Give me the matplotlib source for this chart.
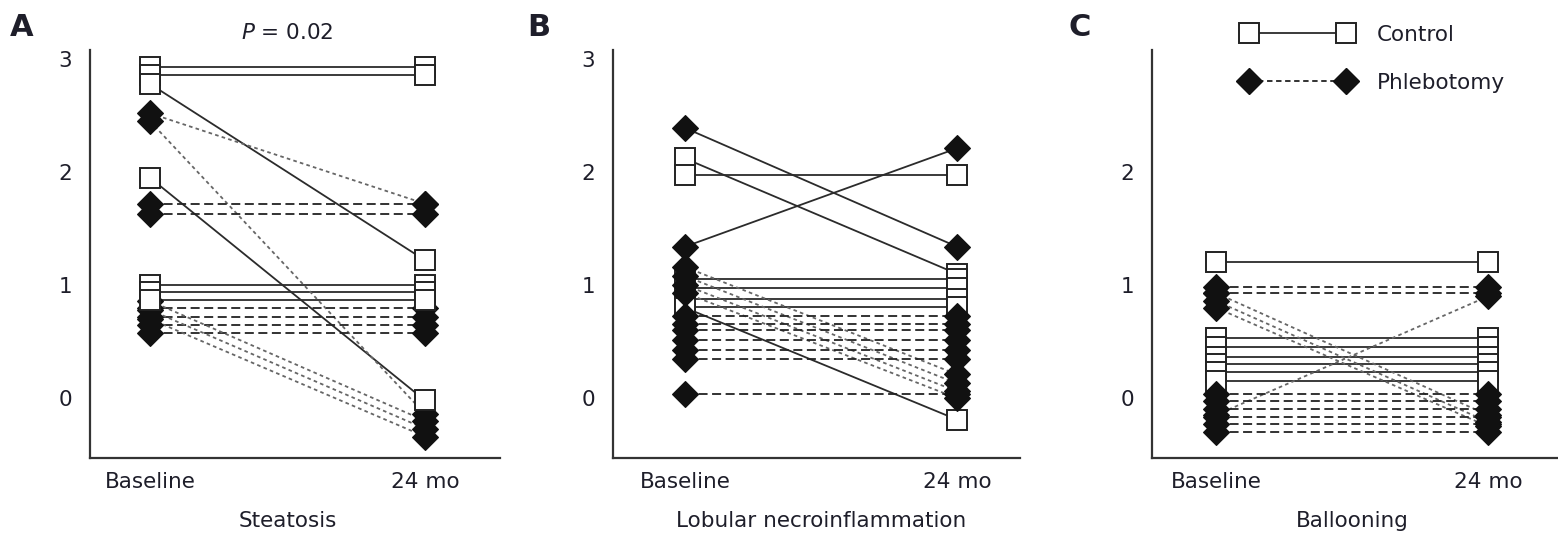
import numpy as np
import matplotlib.pyplot as plt

plt.rcParams['font.family'] = ['DejaVu Sans']

# ==========================================================
# DATA (scores, slightly offset so the patients do not overlap)
# ==========================================================

time_labels = ["Baseline", "24 mo"]
panel_letters = ["A", "B", "C"]
panel_titles = ["Steatosis", "Lobular necroinflammation", "Ballooning"]

# A: steatosis
steat_ctrl_base = [2.93, 2.86, 2.78, 1.95, 1.00, 0.94, 0.87]
steat_ctrl_24 = [2.93, 2.86, 1.22, -0.02, 1.00, 0.94, 0.87]
steat_phleb_base = [2.52, 2.45, 1.72, 1.63, 0.80, 0.72, 0.65, 0.58, 0.86, 0.78, 0.70]
steat_phleb_24 = [1.72, -0.14, 1.72, 1.63, 0.80, 0.72, 0.65, 0.58, -0.20, -0.27, -0.34]

# B: lobular necroinflammation
lob_ctrl_base = [2.12, 1.97, 1.05, 0.97, 0.88, 0.81, 0.80]
lob_ctrl_24 = [1.10, 1.97, 1.05, 0.97, 0.88, 0.81, -0.19]
lob_phleb_base = [2.39, 1.34, 1.16, 1.08, 1.00, 0.93, 0.73, 0.66, 0.60, 0.51, 0.43, 0.35, 0.04]
lob_phleb_24 = [1.34, 2.21, 0.21, 0.13, 0.06, 0.00, 0.73, 0.66, 0.60, 0.51, 0.43, 0.35, 0.04]

# C: ballooning
ball_ctrl_base = [1.20, 0.53, 0.45, 0.36, 0.30, 0.23, 0.15]
ball_ctrl_24 = [1.20, 0.53, 0.45, 0.36, 0.30, 0.23, 0.15]
ball_phleb_base = [0.98, 0.93, 0.93, 0.86, 0.80, -0.15, 0.04, -0.03, -0.10, -0.17, -0.23, -0.30]
ball_phleb_24 = [0.98, 0.93, -0.15, -0.21, -0.25, 0.90, 0.04, -0.03, -0.10, -0.17, -0.23, -0.30]

p_value_text = "$P$ = 0.02"

# ==========================================================
# STYLE
# ==========================================================

TEXT = "#1e1e2a"
AXIS = "#333333"
W, H = 1558, 533
FS = 15.5
MS = 13.7

fig = plt.figure(figsize=(W / 100, H / 100), dpi=100)


def add_axes_px(left, right, top, bottom):
    return fig.add_axes([left / W, 1 - bottom / H,
                         (right - left) / W, (bottom - top) / H])


panels = [
    dict(box=(90, 500), xlim=(-0.218, 1.273), yticks=[0, 1, 2, 3],
         ctrl=(steat_ctrl_base, steat_ctrl_24),
         phleb=(steat_phleb_base, steat_phleb_24),
         solid_phleb=[], ctrl_on_top=True, letter_x=10),
    dict(box=(613, 1020), xlim=(-0.265, 1.232), yticks=[0, 1, 2, 3],
         ctrl=(lob_ctrl_base, lob_ctrl_24),
         phleb=(lob_phleb_base, lob_phleb_24),
         solid_phleb=[0, 1], ctrl_on_top=False, letter_x=527),
    dict(box=(1152, 1557), xlim=(-0.235, 1.254), yticks=[0, 1, 2],
         ctrl=(ball_ctrl_base, ball_ctrl_24),
         phleb=(ball_phleb_base, ball_phleb_24),
         solid_phleb=[], ctrl_on_top=False, letter_x=1069),
]

axes = []

for i, p in enumerate(panels):

    ax = add_axes_px(p["box"][0], p["box"][1], 50, 458)
    axes.append(ax)

    x = [0, 1]

    # control lines
    for b, a in zip(*p["ctrl"]):
        ax.plot(x, [b, a], color="#2b2b2b", lw=1.3, zorder=1)

    # phlebotomy lines
    for j, (b, a) in enumerate(zip(*p["phleb"])):
        if j in p["solid_phleb"]:
            ax.plot(x, [b, a], color="#2b2b2b", lw=1.3, zorder=1)
        elif b == a:
            ax.plot(x, [b, a], color="#222222", lw=1.3,
                    linestyle=(0, (5, 2.5)), zorder=1)
        else:
            ax.plot(x, [b, a], color="#666666", lw=1.3,
                    linestyle=(0, (2, 1.8)), zorder=1)

    z_ctrl = 4 if p["ctrl_on_top"] else 2
    z_phleb = 2 if p["ctrl_on_top"] else 4

    for k, vals in enumerate(p["phleb"]):
        ax.plot(np.full(len(vals), x[k]), vals, linestyle="none",
                marker="D", ms=MS, mfc="#111111", mec="#111111",
                mew=0.8, zorder=z_phleb)

    for k, vals in enumerate(p["ctrl"]):
        for v in vals:
            ax.plot([x[k]], [v], linestyle="none", marker="s", ms=MS,
                    mfc="white", mec="#222222", mew=1.4, zorder=z_ctrl)

    ax.set_xlim(*p["xlim"])
    ax.set_ylim(-0.53, 3.08)
    ax.set_xticks(x)
    ax.set_xticklabels(time_labels)
    ax.set_yticks(p["yticks"])
    ax.tick_params(length=0, labelsize=FS, labelcolor=TEXT)
    ax.tick_params(axis="y", pad=13)
    ax.tick_params(axis="x", pad=10)

    for side in ["top", "right"]:
        ax.spines[side].set_visible(False)
    for side in ["left", "bottom"]:
        ax.spines[side].set_color(AXIS)
        ax.spines[side].set_linewidth(1.6)

    xmin, xmax = p["xlim"]
    ax.set_xlabel(panel_titles[i], fontsize=FS, color=TEXT)
    ax.xaxis.set_label_coords((0.5 - xmin) / (xmax - xmin), -0.13)

    fig.text(p["letter_x"] / W, 1 - 28 / H, panel_letters[i],
             fontsize=22, fontweight="bold", color=TEXT,
             ha="left", va="center")

axes[0].text(0.5, 1.042, p_value_text, transform=axes[0].get_xaxis_transform(),
             ha="center", va="center", fontsize=FS, color=TEXT)

# ==========================================================
# LEGEND
# ==========================================================

ctrl_handle = plt.Line2D([], [], color="#2b2b2b", lw=1.3, marker="s",
                         ms=MS, mfc="white", mec="#222222", mew=1.4)
phleb_handle = plt.Line2D([], [], color="#222222", lw=1.3,
                          linestyle=(0, (3, 2)), marker="D", ms=MS,
                          mfc="#111111", mec="#111111")

fig.legend([ctrl_handle, phleb_handle], ["Control", "Phlebotomy"],
           numpoints=2, handlelength=5.1, handletextpad=1.1,
           labelspacing=1.3, fontsize=FS, frameon=False,
           loc="upper left", borderpad=0, borderaxespad=0,
           bbox_to_anchor=(1243 / W, 1 - 25 / H), labelcolor=TEXT)

fig.savefig("out.png", dpi=100)
